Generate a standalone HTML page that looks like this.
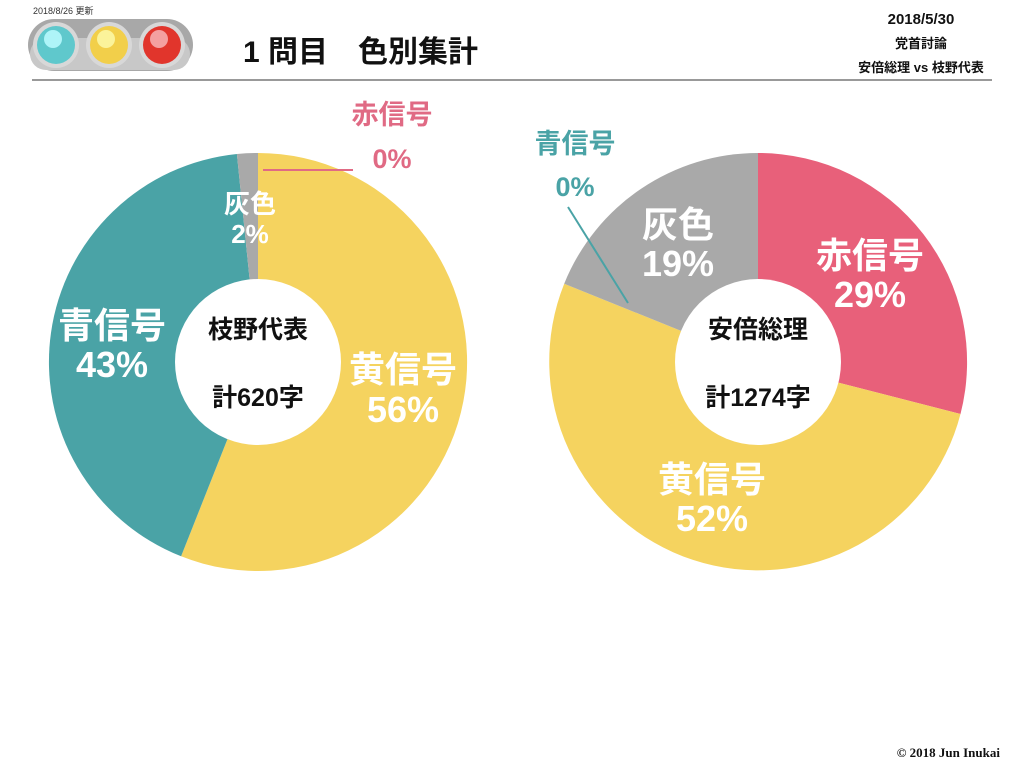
<!DOCTYPE html>
<html><head><meta charset="utf-8"><style>
html,body{margin:0;padding:0;background:#fff;}
svg{display:block;}
text{font-family:"Liberation Sans","Noto Sans CJK JP",sans-serif;}
</style></head><body>
<svg width="1024" height="768" viewBox="0 0 1024 768" xmlns="http://www.w3.org/2000/svg">
<text x="33" y="14" font-size="9" fill="#333">2018/8/26 更新</text>
<rect x="28" y="19" width="165" height="52" rx="26" fill="#a8a8a8"/>
<rect x="30" y="38" width="160" height="32" rx="16" fill="#c8c8c8"/>
<circle cx="56" cy="45" r="23" fill="#d8d8d8"/><circle cx="56" cy="45" r="19" fill="#5fc8cc"/><circle cx="53" cy="39" r="9" fill="#aef4f8"/>
<circle cx="109" cy="45" r="23" fill="#d8d8d8"/><circle cx="109" cy="45" r="19" fill="#f2cf4a"/><circle cx="106" cy="39" r="9" fill="#fbf39a"/>
<circle cx="162" cy="45" r="23" fill="#d8d8d8"/><circle cx="162" cy="45" r="19" fill="#e1352c"/><circle cx="159" cy="39" r="9" fill="#f4a0a0"/>
<text x="243" y="62" font-size="30" font-weight="bold" fill="#111">1 問目　色別集計</text>
<line x1="32" y1="80" x2="992" y2="80" stroke="#999" stroke-width="2"/>
<text x="921" y="24" font-size="15" font-weight="bold" text-anchor="middle" fill="#111">2018/5/30</text>
<text x="921" y="48" font-size="13" font-weight="bold" text-anchor="middle" fill="#111">党首討論</text>
<text x="921" y="72" font-size="13" font-weight="bold" text-anchor="middle" fill="#111">安倍総理 vs 枝野代表</text>

<path d="M258 362 L258 153 A209 209 0 1 1 181.1 556.3 Z" fill="#f5d35f"/>
<path d="M258 362 L181.1 556.3 A209 209 0 0 1 236.9 154 Z" fill="#4aa3a6"/>
<path d="M258 362 L236.9 154 A209 209 0 0 1 258 153 Z" fill="#a9a9a9"/>
<circle cx="258" cy="362" r="83" fill="#fff"/>
<text x="258" y="338" font-size="25" font-weight="bold" text-anchor="middle" fill="#111">枝野代表</text>
<text x="258" y="406" font-size="25" font-weight="bold" text-anchor="middle" fill="#111">計620字</text>
<g fill="#fff" font-size="36" font-weight="bold" text-anchor="middle">
<text x="403" y="382">黄信号</text><text x="403" y="422">56%</text>
<text x="112" y="338">青信号</text><text x="112" y="377">43%</text>
<text x="250" y="213" font-size="26">灰色</text><text x="250" y="243" font-size="26">2%</text>
</g>
<text x="392" y="124" font-size="27" font-weight="bold" text-anchor="middle" fill="#e06a84">赤信号</text>
<text x="392" y="168" font-size="27" font-weight="bold" text-anchor="middle" fill="#e06a84">0%</text>
<line x1="263" y1="170" x2="353" y2="170" stroke="#e06a84" stroke-width="2"/>

<path d="M758 362 L758 153 A209 209 0 0 1 960.5 414 Z" fill="#e8607a"/>
<path d="M758 362 L960.5 414 A209 209 0 1 1 564.2 283.7 Z" fill="#f5d35f"/>
<path d="M758 362 L564.2 283.7 A209 209 0 0 1 758 153 Z" fill="#a9a9a9"/>
<circle cx="758" cy="362" r="83" fill="#fff"/>
<text x="758" y="338" font-size="25" font-weight="bold" text-anchor="middle" fill="#111">安倍総理</text>
<text x="758" y="406" font-size="25" font-weight="bold" text-anchor="middle" fill="#111">計1274字</text>
<g fill="#fff" font-size="36" font-weight="bold" text-anchor="middle">
<text x="870" y="268">赤信号</text><text x="870" y="307">29%</text>
<text x="678" y="237">灰色</text><text x="678" y="276">19%</text>
<text x="712" y="492">黄信号</text><text x="712" y="531">52%</text>
</g>
<text x="575" y="153" font-size="27" font-weight="bold" text-anchor="middle" fill="#4aa3a6">青信号</text>
<text x="575" y="196" font-size="27" font-weight="bold" text-anchor="middle" fill="#4aa3a6">0%</text>
<line x1="568" y1="207" x2="628" y2="303" stroke="#4aa3a6" stroke-width="2"/>

<text x="1000" y="757" font-size="13" font-weight="bold" text-anchor="end" fill="#111" style="font-family:'Liberation Serif',serif">© 2018 Jun Inukai</text>
</svg>
</body></html>
